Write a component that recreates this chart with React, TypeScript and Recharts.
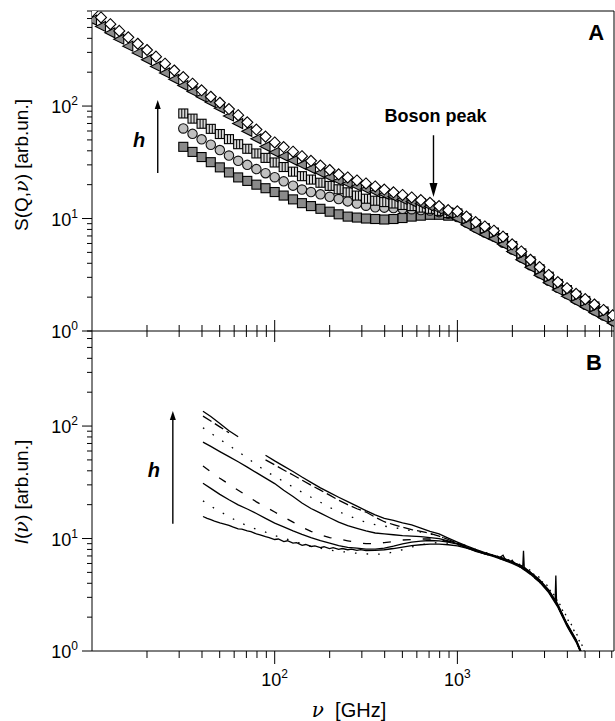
import React from 'react';
import { ScatterChart, Scatter, LineChart, Line, XAxis, YAxis, ReferenceLine, ReferenceDot } from 'recharts';

// ---------- Panel A: S(Q, nu) scatter data ----------
const FREQ_A = [10, 11.2, 12.6, 14.1, 15.8, 17.8, 20, 22.4, 25.1, 28.2, 31.6, 35.5, 39.8, 44.7, 50.1, 56.2, 63.1, 70.8, 79.4, 89.1,
  100, 112, 126, 141, 158, 178, 200, 224, 251, 282, 316, 355, 398, 447, 501, 562, 631, 708, 794, 891,
  1000, 1122, 1259, 1413, 1585, 1778, 1995, 2239, 2512, 2818, 3162, 3548, 3981, 4467, 5012, 5623, 6310, 7079];
const FREQ_A_LOW = [31.6, 35.5, 39.8, 44.7, 50.1, 56.2, 63.1, 70.8, 79.4, 89.1,
  100, 112, 126, 141, 158, 178, 200, 224, 251, 282, 316, 355, 398, 447, 501, 562, 631, 708, 794, 891,
  1000, 1122, 1259, 1413, 1585, 1778, 1995, 2239, 2512, 2818, 3162, 3548, 3981, 4467, 5012, 5623, 6310, 7079];

const S_DIAMOND = [692, 614, 534, 466, 408, 358, 315, 275, 238, 207, 181, 158, 138, 121, 107, 94, 83, 71.6, 61.8, 53.5,
  47.5, 43.2, 39.3, 35.8, 32.6, 29.6, 27.0, 24.7, 23.2, 21.8, 20.5, 19.3, 18.1, 17.1, 16.2, 15.4, 14.6, 13.8, 12.9, 11.9,
  11.6, 10.4, 9.3, 8.5, 7.8, 6.9, 5.9, 5.1, 4.3, 3.7, 3.15, 2.72, 2.4, 2.14, 1.92, 1.72, 1.54, 1.38];
const S_TRIANGLE = [581, 510, 448, 393, 341, 297, 258, 225, 197, 173, 152, 135, 121, 108, 95.5, 81.6, 69.8, 59.7, 51.1, 43.7,
  38.8, 35.7, 32.8, 30.1, 27.7, 25.5, 23.4, 21.7, 20.5, 19.4, 18.3, 17.3, 16.4, 15.6, 14.8, 14.1, 13.5, 12.8, 12.0, 11.2,
  10.0, 8.8, 7.9, 7.2, 6.6, 5.9, 5.1, 4.3, 3.68, 3.13, 2.69, 2.32, 2.04, 1.82, 1.64, 1.46, 1.32, 1.18];
const S_STRIPED = [85.9, 77.3, 69.6, 62.7, 56.4, 50.8, 45.8, 41.7, 37.9, 34.6,
  31.5, 28.7, 26.1, 23.8, 22.2, 20.8, 19.5, 18.2, 17.1, 16.0, 15.0, 14.4, 14.0, 13.6, 13.2, 12.9, 12.5, 12.2, 11.7, 11.2,
  11.1, 10.0, 8.9, 8.2, 7.5, 6.7, 5.7, 4.9, 4.16, 3.54, 3.04, 2.62, 2.31, 2.06, 1.85, 1.65, 1.49, 1.33];
const S_CIRCLE = [63.2, 56.6, 50.6, 45.3, 40.6, 36.3, 32.6, 30.0, 27.5, 25.3,
  23.3, 21.4, 19.6, 18.1, 17.2, 16.4, 15.6, 14.9, 14.2, 13.6, 13.0, 12.6, 12.5, 12.4, 12.2, 12.1, 11.9, 11.8, 11.4, 11.0,
  10.3, 9.2, 8.3, 7.5, 6.9, 6.1, 5.3, 4.5, 3.84, 3.26, 2.8, 2.42, 2.13, 1.9, 1.71, 1.53, 1.37, 1.23];
const S_SQUARE = [43.4, 39.1, 35.2, 31.7, 28.5, 25.7, 23.2, 21.6, 20.0, 18.6,
  17.2, 16.0, 14.8, 13.7, 12.9, 12.2, 11.5, 10.9, 10.4, 10.2, 10.0, 9.9, 9.8, 9.9, 10.1, 10.4, 10.6, 10.8, 10.8, 10.6,
  10.7, 9.6, 8.6, 7.85, 7.2, 6.4, 5.5, 4.7, 4.0, 3.4, 2.92, 2.52, 2.22, 1.98, 1.78, 1.59, 1.43, 1.28];

// ---------- Panel B: I(nu) line data ----------
const FREQ_B = [40.5, 44.7, 50.1, 56.2, 63.1, 70.8, 79.4, 89.1, 100, 112, 126, 141, 158, 178, 200, 224, 251, 282, 316, 355,
  398, 447, 501, 562, 631, 708, 794, 891, 1000, 1122, 1259, 1413, 1585, 1778, 1995, 2239, 2512, 2818, 3162, 3548, 3981, 4467, 5012];
const I_1 = [135.5, 121.6, 105.2, 90.8, 80.4, null, null, 55.0, 49.0, 44.0, 39.4, 35.2, 31.6, 28.2, 25.6, 23.3, 21.3, 19.4, 17.7, 16.2,
  15.1, 14.5, 13.8, 13.2, 12.4, 11.6, 11.0, 10.1, 9.3, 8.6, 8.0, 7.5, 7.1, 6.7, 6.2, 5.7, 5.0, 4.3, 3.5, 2.6, 1.74, 1.26, 0.81];
const I_2 = [122.5, 110.9, 98.4, 87.1, null, null, null, 50.1, 45.2, 40.7, 36.7, 33.1, 29.8, 26.9, 24.3, 21.9, 20.0, 18.4, 17.2, 15.5,
  14.1, 13.3, 12.6, 12.0, 11.6, 11.1, 10.5, 9.8, 9.1, 8.5, 7.9, 7.4, 7.0, 6.6, 6.2, 5.6, 5.0, 4.2, 3.4, 2.5, 1.72, 1.23, 0.79];
const I_3 = [96.6, 86.5, 76.2, 67.3, 59.3, 51.9, 45.4, 39.8, 35.7, 32.1, 28.7, 25.8, 23.3, 21.0, 18.9, 17.4, 16.0, 14.9, 13.9, 13.3,
  12.9, 12.5, 12.2, 11.7, 11.4, 11.0, 10.5, 9.8, 9.2, 8.6, 8.0, 7.55, 7.1, 6.7, 6.3, 5.8, 5.2, 4.5, 3.7, 2.8, 2.0, 1.45, 0.98];
const I_4 = [71.9, 65.9, 59.3, 53.5, 48.1, 43.1, 38.5, 34.4, 30.8, 26.9, 23.6, 20.7, 18.5, 16.8, 15.3, 14.0, 13.0, 12.3, 11.7, 11.2,
  11.0, 10.8, 10.6, 10.5, 10.4, 10.2, 10.0, 9.55, 9.0, 8.4, 7.85, 7.4, 7.0, 6.6, 6.1, 5.6, 4.9, 4.2, 3.4, 2.5, 1.7, 1.23, 0.79];
const I_5 = [44.2, 39.2, 34.4, 30.4, 26.9, 23.9, 21.2, 19.1, 17.2, 15.5, 14.0, 12.6, 11.6, 10.8, 10.2, 9.9, 9.55, 9.2, 9.0, 9.0,
  9.2, 9.4, 9.7, 9.8, 9.9, 9.9, 9.8, 9.4, 8.9, 8.3, 7.8, 7.3, 6.9, 6.5, 6.1, 5.5, 4.8, 4.1, 3.35, 2.5, 1.68, 1.22, 0.79];
const I_6 = [31.0, 27.9, 24.7, 22.1, 19.9, 18.3, 16.7, 15.1, 13.7, 12.7, 11.7, 10.9, 10.2, 9.6, 9.1, 8.65, 8.35, 8.2, 8.05, 8.05,
  8.2, 8.55, 8.95, 9.3, 9.5, 9.6, 9.55, 9.3, 8.9, 8.3, 7.7, 7.3, 6.9, 6.45, 6.0, 5.5, 4.8, 4.1, 3.3, 2.45, 1.66, 1.2, 0.79];
const I_7 = [21.6, 19.4, 17.4, 15.7, 14.1, 13.0, 12.1, 11.4, 10.6, 10.1, 9.5, 9.0, 8.5, 8.2, 7.9, 7.7, 7.55, 7.4, 7.3, 7.25,
  7.3, 7.6, 7.95, 8.4, 8.8, 9.1, 9.2, 9.1, 8.8, 8.4, 7.9, 7.45, 7.05, 6.65, 6.25, 5.7, 5.1, 4.35, 3.6, 2.75, 1.95, 1.41, 0.95];
const FREQ_B8 = [40.5, 42.7, 44.7, 46.8, 50.1, 52.5, 56.2, 58.9, 63.1, 66.1, 70.8, 74.1, 79.4, 83.2, 89.1, 93.3, 100, 104.7, 112.2, 117.5,
  125.9, 131.8, 141.3, 147.9, 158.5, 166, 177.8, 186.2, 199.5, 208.9, 223.9, 234.4, 251.2, 263, 281.8, 295.1, 316.2, 354.8, 398.1, 446.7,
  501.2, 562.3, 631, 707.9, 794.3, 891.3, 1000, 1122, 1259, 1413, 1585, 1698, 1778, 1820, 1950, 1995, 2042, 2239, 2280, 2301,
  2323, 2512, 2818, 3162, 3428, 3459, 3491, 3981, 4467, 5012];
const I_8 = [15.7, 15.1, 14.7, 14.3, 13.8, 13.5, 13.1, 12.7, 12.2, 12.1, 11.7, 11.5, 11.0, 10.8, 10.4, 10.2, 9.8, 9.9, 9.4, 9.55,
  9.1, 9.2, 8.7, 8.85, 8.5, 8.6, 8.3, 8.45, 8.15, 8.3, 8.0, 8.15, 7.95, 8.05, 7.85, 7.95, 7.8, 7.85, 7.95, 8.15,
  8.4, 8.65, 8.8, 8.9, 8.9, 8.8, 8.6, 8.2, 7.75, 7.3, 7.0, 6.75, 7.1, 6.6, 6.2, 6.4, 6.05, 5.75, 5.6, 7.8,
  5.55, 5.0, 4.25, 3.45, 2.8, 4.7, 2.7, 1.75, 1.26, 0.79];

// ---------- Axes ----------
const X_DOMAIN = [10, 7200];
const Y_DOMAIN = [1, 700];
const X_TICKS = [20, 30, 40, 50, 60, 70, 80, 90, 100, 200, 300, 400, 500, 600, 700, 800, 900, 1000, 2000, 3000, 4000, 5000, 6000, 7000];
const Y_TICKS = [1, 2, 3, 4, 5, 6, 7, 8, 9, 10, 20, 30, 40, 50, 60, 70, 80, 90, 100, 200, 300, 400, 500, 600, 700];

const FONT = "'Liberation Sans', Arial, Helvetica, sans-serif";
const toPoints = (fs: number[], vs: (number | null)[]) => vs.map((v, i) => ({ x: fs[i], y: v }));
const isMajor = (v: number) => Math.abs(Math.log10(v) - Math.round(Math.log10(v))) < 1e-9;

const YTick = (p: any) => {
  const { x, y, payload } = p;
  const v = payload.value;
  const major = isMajor(v);
  return (
    <g>
      <line x1={x - (major ? 10 : 5)} x2={x} y1={y} y2={y} stroke="#000" strokeWidth={1} />
      {major && (
        <text x={x - 14} y={y + 7} textAnchor="end" fontSize={18} fontFamily={FONT} fill="#000">
          10<tspan dy={-8} fontSize={12}>{Math.round(Math.log10(v))}</tspan>
        </text>
      )}
    </g>
  );
};

const XTickCross = (p: any) => {
  const { x, y, payload } = p;
  const len = isMajor(payload.value) ? 11 : 6;
  return <line x1={x} x2={x} y1={y - len} y2={y + len} stroke="#000" strokeWidth={1} />;
};

const XTickBottom = (p: any) => {
  const { x, y, payload } = p;
  const v = payload.value;
  const major = isMajor(v);
  return (
    <g>
      <line x1={x} x2={x} y1={y} y2={y + (major ? 13 : 7)} stroke="#000" strokeWidth={1} />
      {major && (
        <text x={x} y={y + 35} textAnchor="middle" fontSize={18} fontFamily={FONT} fill="#000">
          10<tspan dy={-8} fontSize={12}>{Math.round(Math.log10(v))}</tspan>
        </text>
      )}
    </g>
  );
};

const makeArrow = (headLen: number, headHalf: number) => (p: any) => {
  const { x1, y1, x2, y2 } = p;
  const dx = x2 - x1, dy = y2 - y1;
  const len = Math.hypot(dx, dy) || 1;
  const ux = dx / len, uy = dy / len;
  const bx = x2 - ux * headLen, by = y2 - uy * headLen;
  return (
    <g>
      <line x1={x1} y1={y1} x2={bx} y2={by} stroke="#000" strokeWidth={1.4} />
      <polygon points={`${x2},${y2} ${bx - uy * headHalf},${by + ux * headHalf} ${bx + uy * headHalf},${by - ux * headHalf}`} fill="#000" />
    </g>
  );
};
const SmallArrow = makeArrow(9, 3);
const BigArrow = makeArrow(14, 4);

const textShape = (txt: string, opts: any) => (p: any) => (
  <text x={p.cx} y={p.cy} fontFamily={FONT} fill="#000" {...opts}>{txt}</text>
);

// ---------- Markers ----------
const Diamond = (p: any) => {
  const { cx, cy } = p;
  if (cx == null || cy == null) return null;
  return <polygon points={`${cx},${cy - 5.5} ${cx + 5.5},${cy} ${cx},${cy + 5.5} ${cx - 5.5},${cy}`} fill="#fff" stroke="#000" strokeWidth={1.1} />;
};
const Triangle = (p: any) => {
  const { cx, cy } = p;
  if (cx == null || cy == null) return null;
  return <polygon points={`${cx - 5.5},${cy} ${cx + 4.5},${cy - 5} ${cx + 4.5},${cy + 5}`} fill="#8c8c8c" stroke="#000" strokeWidth={1.1} />;
};
const Striped = (p: any) => {
  const { cx, cy } = p;
  if (cx == null || cy == null) return null;
  return (
    <g>
      <rect x={cx - 4.5} y={cy - 4.5} width={9} height={9} fill="#d8d8d8" stroke="#000" strokeWidth={1.1} />
      <line x1={cx - 1.5} x2={cx - 1.5} y1={cy - 4.5} y2={cy + 4.5} stroke="#000" strokeWidth={1} />
      <line x1={cx + 1.5} x2={cx + 1.5} y1={cy - 4.5} y2={cy + 4.5} stroke="#000" strokeWidth={1} />
    </g>
  );
};
const Circle = (p: any) => {
  const { cx, cy } = p;
  if (cx == null || cy == null) return null;
  return <circle cx={cx} cy={cy} r={4.7} fill="#c0c0c0" stroke="#111" strokeWidth={1.1} />;
};
const Square = (p: any) => {
  const { cx, cy } = p;
  if (cx == null || cy == null) return null;
  return <rect x={cx - 4.5} y={cy - 4.5} width={9} height={9} fill="#8a8a8a" stroke="#000" strokeWidth={1.1} />;
};

const NU = (props: any) => <tspan fontFamily="'DejaVu Serif', serif" fontStyle="italic" {...props}>ν</tspan>;

const YLabelA = (p: any) => {
  const vb = p.viewBox;
  const x = 28, y = vb.y + vb.height / 2 - 6;
  return (
    <text x={x} y={y} transform={`rotate(-90 ${x} ${y})`} textAnchor="middle" fontSize={19} fontFamily={FONT} fill="#000">
      S(Q,<NU />) [arb.un.]
    </text>
  );
};
const YLabelB = (p: any) => {
  const vb = p.viewBox;
  const x = 28, y = vb.y + vb.height / 2 + 1;
  return (
    <text x={x} y={y} transform={`rotate(-90 ${x} ${y})`} textAnchor="middle" fontSize={19} fontFamily={FONT} fill="#000">
      <tspan fontStyle="italic">I</tspan>(<NU />) [arb.un.]
    </text>
  );
};
const XLabelB = (p: any) => {
  const vb = p.viewBox;
  const x = vb.x + vb.width / 2 - 4;
  return (
    <text x={x} y={vb.y + 66} textAnchor="middle" fontSize={20} fontFamily={FONT} fill="#000">
      <NU />{'\u00a0\u00a0[GHz]'}
    </text>
  );
};

const LINES_B = [
  { data: toPoints(FREQ_B, I_1), dash: undefined },
  { data: toPoints(FREQ_B, I_2), dash: '10 4' },
  { data: toPoints(FREQ_B, I_3), dash: '1.6 10' },
  { data: toPoints(FREQ_B, I_4), dash: undefined },
  { data: toPoints(FREQ_B, I_5), dash: '8 12' },
  { data: toPoints(FREQ_B, I_6), dash: undefined },
  { data: toPoints(FREQ_B, I_7), dash: '1.6 10' },
  { data: toPoints(FREQ_B8, I_8), dash: undefined },
];

export default function App() {
  const xCommon: any = {
    dataKey: 'x', type: 'number', scale: 'log', domain: X_DOMAIN, allowDataOverflow: true,
    ticks: X_TICKS, interval: 0, tickLine: false, tickSize: 0, tickMargin: 0,
    axisLine: { stroke: '#000', strokeWidth: 1 },
  };
  const yCommon: any = {
    dataKey: 'y', type: 'number', scale: 'log', domain: Y_DOMAIN, allowDataOverflow: true,
    ticks: Y_TICKS, interval: 0, tickLine: false, tickSize: 0, tickMargin: 0, width: 92,
    axisLine: { stroke: '#000', strokeWidth: 1 }, tick: YTick,
  };
  return (
    <div style={{ position: 'absolute', left: 0, top: 0, width: 615, height: 721, background: '#fff', fontFamily: FONT }}>
      <div style={{ position: 'absolute', left: 0, top: 0 }}>
        <ScatterChart width={615} height={345} margin={{ top: 11, right: 1, bottom: 0, left: 0 }}>
          <XAxis {...xCommon} height={14} tick={XTickCross} />
          <YAxis {...yCommon} label={YLabelA} />
          <Scatter data={toPoints(FREQ_A_LOW, S_SQUARE)} shape={Square} isAnimationActive={false} />
          <Scatter data={toPoints(FREQ_A_LOW, S_CIRCLE)} shape={Circle} isAnimationActive={false} />
          <Scatter data={toPoints(FREQ_A_LOW, S_STRIPED)} shape={Striped} isAnimationActive={false} />
          <Scatter data={toPoints(FREQ_A, S_TRIANGLE)} shape={Triangle} isAnimationActive={false} />
          <Scatter data={toPoints(FREQ_A, S_DIAMOND)} shape={Diamond} isAnimationActive={false} />
          <ReferenceLine y={700} stroke="#000" strokeWidth={1} ifOverflow="visible" />
          <ReferenceLine x={7200} stroke="#000" strokeWidth={1} ifOverflow="visible" />
          <ReferenceLine segment={[{ x: 22.9, y: 25.4 }, { x: 22.9, y: 113 }]} shape={SmallArrow} ifOverflow="visible" />
          <ReferenceLine segment={[{ x: 740, y: 55 }, { x: 740, y: 15.5 }]} shape={BigArrow} ifOverflow="visible" />
          <ReferenceDot x={18.1} y={50} ifOverflow="visible" shape={textShape('h', { fontSize: 20, fontWeight: 'bold', fontStyle: 'italic', textAnchor: 'middle', dy: 7 })} />
          <ReferenceDot x={760} y={72} ifOverflow="visible" shape={textShape('Boson peak', { fontSize: 18, fontWeight: 'bold', textAnchor: 'middle' })} />
          <ReferenceDot x={6350} y={386} ifOverflow="visible" shape={textShape('A', { fontSize: 22, fontWeight: 'bold', textAnchor: 'end' })} />
        </ScatterChart>
      </div>
      <div style={{ position: 'absolute', left: 0, top: 320 }}>
        <LineChart width={615} height={401} margin={{ top: 11, right: 1, bottom: 0, left: 0 }}>
          <XAxis {...xCommon} height={70} tick={XTickBottom} label={XLabelB} />
          <YAxis {...yCommon} label={YLabelB} />
          {LINES_B.map((s, i) => (
            <Line key={i} data={s.data} dataKey="y" stroke="#000" strokeWidth={1.3} strokeDasharray={s.dash}
              dot={false} activeDot={false} isAnimationActive={false} connectNulls={false} />
          ))}
          <ReferenceLine x={7200} stroke="#000" strokeWidth={1} ifOverflow="visible" />
          <ReferenceLine segment={[{ x: 27.7, y: 13.5 }, { x: 27.7, y: 136 }]} shape={SmallArrow} ifOverflow="visible" />
          <ReferenceDot x={21.8} y={35.2} ifOverflow="visible" shape={textShape('h', { fontSize: 20, fontWeight: 'bold', fontStyle: 'italic', textAnchor: 'middle' })} />
          <ReferenceDot x={6190} y={315} ifOverflow="visible" shape={textShape('B', { fontSize: 22, fontWeight: 'bold', textAnchor: 'end' })} />
        </LineChart>
      </div>
    </div>
  );
}
